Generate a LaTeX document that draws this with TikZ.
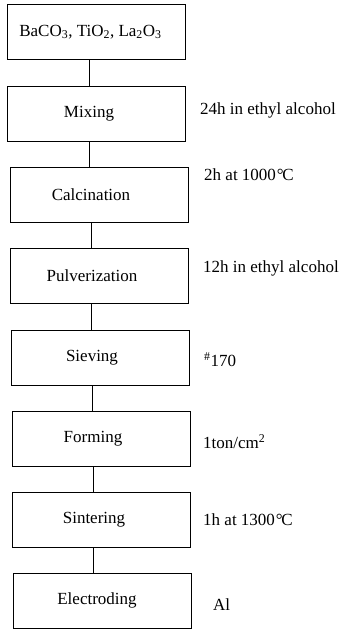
\documentclass[tikz,border=0pt]{standalone}
\usepackage{fontspec}
\setmainfont{Liberation Serif}
\begin{document}
\begin{tikzpicture}[x=1pt,y=1pt,
  stepbox/.style={draw, line width=0.9pt, minimum width=178pt, minimum height=55pt, inner sep=0pt, font=\fontsize{17}{19}\selectfont},
  note/.style={anchor=west, inner sep=0pt, font=\fontsize{17}{19}\selectfont},
  conn/.style={line width=0.9pt}]
\useasboundingbox (0,0) rectangle (340,-629);
\node[stepbox] (b0) at (96.5,-32) {\hspace*{-12pt}BaCO\textsubscript{3}, TiO\textsubscript{2}, La\textsubscript{2}O\textsubscript{3}};
\node[stepbox] (b1) at (96.5,-113.5) {\hspace*{-15pt}Mixing};
\node[stepbox] (b2) at (99,-194.5) {\hspace*{-16pt}Calcination};
\node[stepbox] (b3) at (99,-276) {\hspace*{-14pt}Pulverization};
\node[stepbox] (b4) at (100,-357.5) {\hspace*{-16pt}Sieving};
\node[stepbox] (b5) at (101,-439) {\hspace*{-16pt}Forming};
\node[stepbox] (b6) at (101,-520) {\hspace*{-14pt}Sintering};
\node[stepbox] (b7) at (102,-600.5) {\hspace*{-10pt}Electroding};
\foreach \a/\b in {b0/b1,b1/b2,b2/b3,b3/b4,b4/b5,b5/b6,b6/b7}
  \draw[conn] ([xshift=-7.5pt]\a.south) -- ([xshift=-7.5pt]\a.south |- \b.north);
\node[note] (n1) at (200,-110) {24h in ethyl alcohol};
\node[note] (n2) at (204,-175) {2h at 1000\kern1pt°\kern-1.5ptC};
\node[note] (n3) at (203,-268) {12h in ethyl alcohol};
\node[note] (n4) at (204,-360) {\textsuperscript{\#}170};
\node[note] (n5) at (203,-442) {1ton/cm\textsuperscript{2}};
\node[note] (n6) at (203,-520) {1h at 1300\kern1pt°\kern-1.5ptC};
\node[note] (n7) at (213,-605) {Al};
\end{tikzpicture}
\end{document}
